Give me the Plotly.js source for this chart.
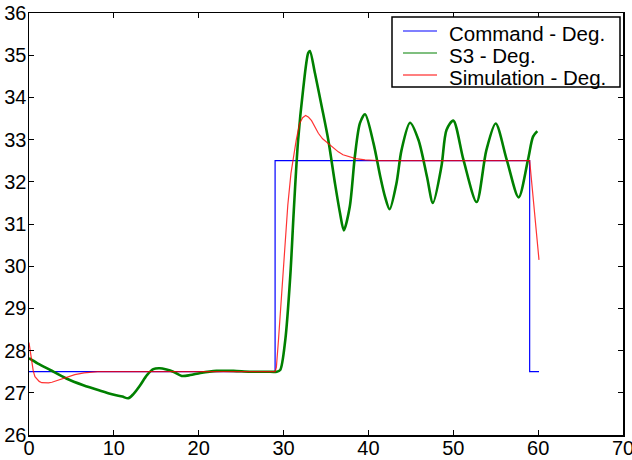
<!DOCTYPE html>
<html>
<head>
<meta charset="utf-8">
<script src="https://cdn.plot.ly/plotly-3.0.1.min.js"></script>
<style>html,body{margin:0;padding:0;background:#fff;}#chart{width:632px;height:460px;}</style>
</head>
<body>
<div id="chart"></div>
<script>
const seriesNames = ['Command - Deg.', 'S3 - Deg.', 'Simulation - Deg.'];
const seriesColors = ['#0000ff', '#008000', '#ff0000'];
const xTicks = [0, 10, 20, 30, 40, 50, 60, 70];
const yTicks = [26, 27, 28, 29, 30, 31, 32, 33, 34, 35, 36];

// Command - Deg.
const cmdX = [0, 29, 29, 59, 59, 60.1];
const cmdY = [27.5, 27.5, 32.5, 32.5, 27.5, 27.5];

// S3 - Deg. (measured, noisy)
const s3X = [0, 1, 2.5, 4.4, 6.4, 8.4, 9.9, 11.0, 11.7, 12.3, 13.1, 13.9, 14.65, 15.4, 16.2, 17.0, 18.0, 19.0, 20.2, 22.1, 24.1, 26.0, 28.0, 29.2, 29.6, 30.2, 30.8, 31.2, 31.7, 32.3, 32.9, 33.1, 33.7, 34.5, 35.27, 36.06, 36.65, 37.1, 37.8, 38.4, 39.0, 39.6, 40.6, 41.4, 41.95, 42.5, 43.3, 43.9, 44.9, 45.9, 46.9, 47.6, 48.6, 49.2, 50.0, 51.2, 52.75, 53.9, 55.0, 56.3, 57.7, 58.8, 59.4, 59.9];
const s3Y = [27.82, 27.7, 27.54, 27.34, 27.18, 27.05, 26.96, 26.91, 26.87, 26.97, 27.18, 27.42, 27.56, 27.58, 27.55, 27.5, 27.40, 27.42, 27.47, 27.52, 27.52, 27.5, 27.5, 27.5, 27.54, 28.25, 29.8, 31.3, 32.95, 34.18, 35.05, 35.1, 34.57, 33.78, 32.99, 31.96, 31.26, 30.85, 31.41, 32.6, 33.39, 33.6, 32.91, 32.12, 31.65, 31.35, 31.96, 32.75, 33.4, 32.99, 32.12, 31.5, 32.36, 33.23, 33.45, 32.52, 31.52, 32.75, 33.38, 32.52, 31.63, 32.52, 33.07, 33.2];

// Simulation - Deg.
const simX = [0, 0.15, 0.3, 0.5, 0.7, 0.95, 1.2, 1.5, 1.9, 2.3, 2.7, 3.45, 4.4, 5.4, 6.5, 7.3, 8.1, 29.0, 29.15, 29.4, 29.65, 29.9, 30.17, 30.5, 30.87, 31.2, 31.5, 31.9, 32.25, 32.6, 32.95, 33.3, 33.7, 34.1, 34.6, 35.2, 35.8, 36.45, 37.0, 37.6, 38.5, 39.6, 41.0, 59.0, 60.1];
const simY = [28.19, 27.95, 27.7, 27.52, 27.38, 27.31, 27.27, 27.24, 27.23, 27.235, 27.25, 27.3, 27.37, 27.43, 27.47, 27.49, 27.5, 27.5, 27.6, 28.25, 29.04, 29.8, 30.62, 31.45, 32.2, 32.65, 33.0, 33.39, 33.52, 33.57, 33.53, 33.45, 33.31, 33.15, 33.02, 32.92, 32.8, 32.71, 32.64, 32.6, 32.55, 32.52, 32.5, 32.5, 30.15];

const traces = [
  {x: cmdX, y: cmdY, name: seriesNames[0], mode: 'lines', line: {color: seriesColors[0], width: 1.2}},
  {x: s3X, y: s3Y, name: seriesNames[1], mode: 'lines', line: {color: seriesColors[1], width: 2.6, shape: 'spline', smoothing: 0.8}},
  {x: simX, y: simY, name: seriesNames[2], mode: 'lines', opacity: 0.8, line: {color: seriesColors[2], width: 1.2}}
];

const fontFam = 'Liberation Sans, Arial, sans-serif';
const axisCommon = {
  showline: true, mirror: 'ticks', linecolor: '#000', linewidth: 1.5,
  ticks: 'inside', ticklen: 5, tickwidth: 1, tickcolor: '#000',
  showgrid: false, zeroline: false, ticklabeloverflow: 'allow',
  tickfont: {family: fontFam, size: 20, color: '#000'}
};

// legend drawn as decoration (pixel layout converted to paper coords)
const L = 29, T = 13, W = 594, H = 422;
const px = v => (v - L) / W;
const py = v => (T + H - v) / H;
const shapes = [{type: 'rect', xref: 'paper', yref: 'paper', x0: px(392), x1: px(620), y0: py(87), y1: py(17),
  line: {color: '#000', width: 1.5}, fillcolor: '#fff', layer: 'above'}];
const annotations = [];
const rowY = [31, 53, 75];
seriesNames.forEach((n, i) => {
  shapes.push({type: 'line', xref: 'paper', yref: 'paper', x0: px(403), x1: px(437), y0: py(rowY[i]), y1: py(rowY[i]),
    line: {color: seriesColors[i], width: 1.2}, layer: 'above'});
  annotations.push({xref: 'paper', yref: 'paper', x: px(447), y: py(rowY[i] + 2), xanchor: 'left', yanchor: 'middle',
    text: n, showarrow: false, font: {family: fontFam, size: 20.5, color: '#000'}});
});

const layout = {
  width: 632, height: 460,
  margin: {l: 29, r: 9, t: 13, b: 25},
  paper_bgcolor: '#fff', plot_bgcolor: '#fff',
  font: {family: fontFam, color: '#000'},
  xaxis: Object.assign({}, axisCommon, {range: [0, 70], tickvals: xTicks, ticklabelstandoff: -6}),
  yaxis: Object.assign({}, axisCommon, {range: [26, 36], tickvals: yTicks, ticklabelstandoff: -3}),
  showlegend: false,
  shapes: shapes,
  annotations: annotations
};

Plotly.newPlot('chart', traces, layout, {displayModeBar: false, staticPlot: true});
</script>
</body>
</html>
